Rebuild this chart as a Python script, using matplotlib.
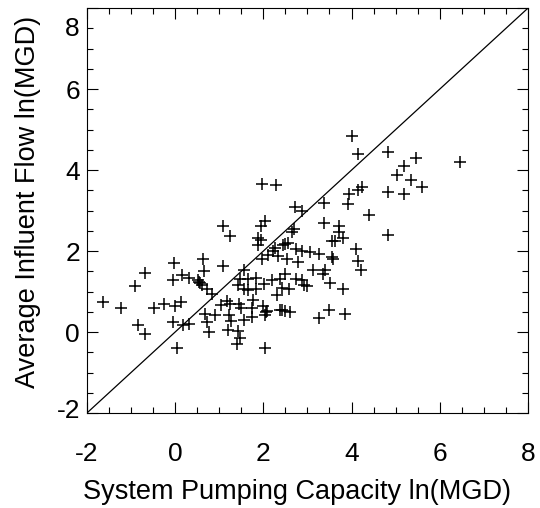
import matplotlib
matplotlib.use("Agg")
import matplotlib.pyplot as plt
from matplotlib.ticker import MultipleLocator
from matplotlib.transforms import ScaledTranslation

plt.rcParams['font.family'] = ['Liberation Sans', 'DejaVu Sans']

capacity = [4.00, 4.15, 4.83, 5.47, 6.47, 5.19, 5.02, 5.34, 5.60, 4.83, 5.19, 4.24, 4.15, 3.95,
            3.92, 4.39, 4.83, 3.38, 1.98, 2.29, 2.72, 2.87, 3.38, 3.71, 3.71, 3.81, 3.55, 3.62,
            4.11, 4.15, 4.21, 3.80, 3.85, 3.49, 3.26, 3.51, 3.36, 3.40, 3.13, 3.55, 3.59, 3.27,
            3.06, 2.87, 2.79, 2.75, 2.70, 2.66, 2.55, 2.49, 2.45, 2.26, 2.23, 2.34, 2.53, 2.04,
            1.94, 1.89, 1.94, 1.89, 1.98, 1.08, 1.25, 1.08, 0.63, -0.02, -0.68, -0.92, -1.64,
            -1.22, -0.85, -0.68, -0.47, -0.26, 0.00, 0.14, -0.04, 0.15, 0.32, 0.51, 0.57, 0.60,
            0.66, 0.72, 0.83, -0.04, 0.17, 0.32, 0.04, 0.68, 0.72, 0.77, 0.91, 1.04, 1.17, 1.25,
            1.23, 1.26, 1.19, 1.43, 1.47, 1.40, 2.04, 1.49, 1.55, 1.74, 1.74, 1.77, 1.66, 1.55,
            1.43, 1.47, 1.55, 1.66, 1.83, 1.83, 2.02, 2.19, 2.38, 2.49, 2.42, 2.30, 2.59, 2.73,
            2.87, 2.93, 2.98, 2.00, 2.06, 2.09, 2.04, 2.38, 2.49, 2.60, 2.43, 0.55, 1.45, 2.10]
inflow = [4.83, 4.39, 4.45, 4.31, 4.20, 4.10, 3.88, 3.76, 3.59, 3.47, 3.41, 3.59, 3.51, 3.41,
          3.15, 2.89, 2.40, 3.19, 3.66, 3.62, 3.09, 2.98, 2.70, 2.63, 2.46, 2.32, 2.25, 2.25,
          2.05, 1.76, 1.54, 1.07, 0.45, 0.54, 0.34, 1.20, 1.44, 1.52, 1.54, 1.85, 1.80, 1.93,
          1.98, 2.01, 1.72, 2.05, 2.55, 2.46, 2.20, 2.18, 2.14, 2.07, 2.01, 1.89, 1.80, 2.74,
          2.63, 2.33, 2.28, 2.15, 1.80, 2.63, 2.37, 1.64, 1.80, 1.70, 1.46, 1.13, 0.73, 0.60,
          0.18, -0.04, 0.60, 0.69, 0.65, 0.75, 1.28, 1.41, 1.33, 1.28, 1.22, 1.16, 1.50, 1.06,
          0.93, 0.26, 0.18, 0.20, -0.39, 0.44, 0.24, 0.00, 0.41, 0.67, 0.77, 0.69, 0.42, 0.28,
          0.04, 0.02, -0.15, -0.29, -0.39, 0.60, 0.30, 0.60, 0.36, 0.80, 1.05, 1.07, 1.15, 1.31,
          1.54, 1.30, 1.33, 1.06, 1.18, 1.29, 1.32, 1.44, 1.09, 0.91, 1.06, 1.30, 1.29, 1.15,
          1.13, 0.64, 0.50, 0.52, 0.42, 0.54, 0.52, 0.49, 0.54, 1.24, 0.70, 1.90]

x_ticks = [-2, 0, 2, 4, 6, 8]
y_ticks = [-2, 0, 2, 4, 6, 8]

fig = plt.figure(figsize=(5.40, 5.08), dpi=100)
ax = fig.add_axes([0.161, 0.187, 0.8167, 0.797])

ax.plot([-2, 8], [-2, 8], color='black', linewidth=0.9)
ax.plot(capacity, inflow, linestyle='none', marker='+', markersize=9,
        markeredgewidth=1.1, color='black')

ax.set_xlim(-2, 8)
ax.set_ylim(-2, 8)
ax.set_xticks(x_ticks)
ax.set_yticks(y_ticks)
ax.set_xticklabels([str(t) for t in x_ticks])
ax.set_yticklabels([str(t) for t in y_ticks])
ax.xaxis.set_minor_locator(MultipleLocator(0.5))
ax.yaxis.set_minor_locator(MultipleLocator(0.5))
ax.tick_params(which='both', direction='in', top=True, right=True, width=0.8, color='black')
ax.tick_params(which='major', length=8, labelsize=19)
ax.tick_params(axis='x', which='major', pad=21)
ax.tick_params(axis='y', which='major', pad=5)
ax.tick_params(which='minor', length=4)
for s in ax.spines.values():
    s.set_linewidth(0.8)

# shift the end y tick labels inward like the reference
yt = ax.yaxis.get_major_ticks()
yt[-1].label1.set_transform(yt[-1].label1.get_transform() + ScaledTranslation(0, -18/100, fig.dpi_scale_trans))
yt[0].label1.set_transform(yt[0].label1.get_transform() + ScaledTranslation(0, 5/100, fig.dpi_scale_trans))

xl = ax.set_xlabel('System Pumping Capacity ln(MGD)', fontsize=19.5)
xl.set_va('center')
ax.xaxis.set_label_coords(0.477, -0.195)
yl = ax.set_ylabel('Average Influent Flow ln(MGD)', fontsize=19.5)
yl.set_va('center')
ax.yaxis.set_label_coords(-0.134, 0.522)

fig.savefig('out.png', dpi=100)
